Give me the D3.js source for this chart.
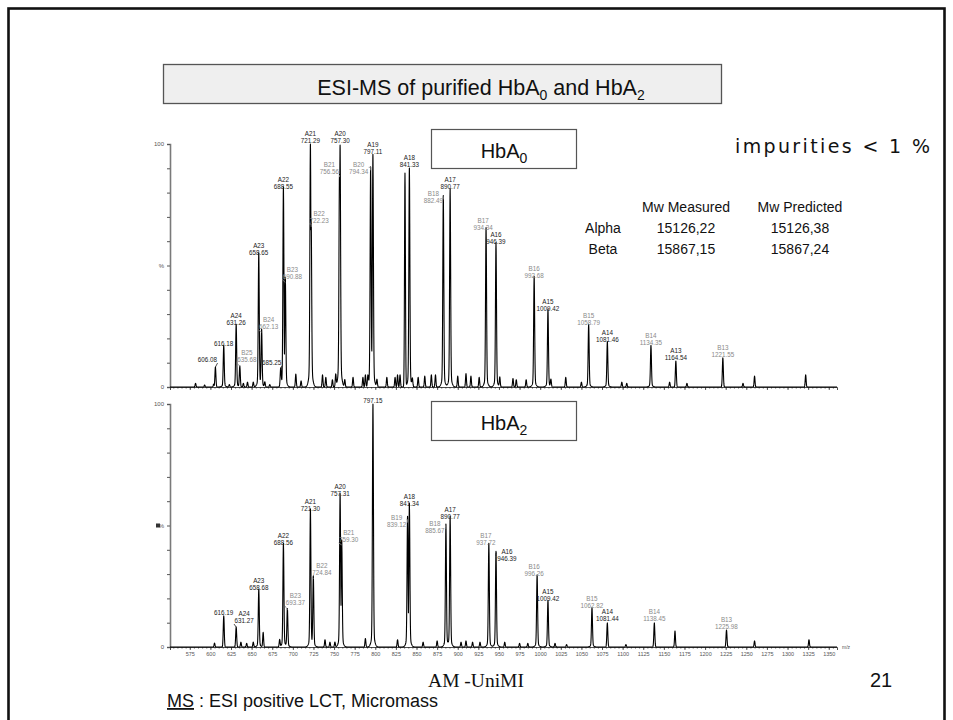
<!DOCTYPE html>
<html><head><meta charset="utf-8">
<script src="https://cdn.jsdelivr.net/npm/d3@7"></script>
<style>body{margin:0;background:#fff}svg{display:block}</style>
</head><body>
<svg id="c" width="953" height="720"></svg>
<script>
// ---------------- DATA ----------------
const mzDomain = [551, 1360];
const mzTickLabels = d3.range(575, 1351, 25);

// HbA0 spectrum: labelled peaks
const a0Names  = ["", "", "A24", "B25", "A23", "B24", "", "A22", "B23", "A21", "B22", "B21", "A20", "B20", "A19", "A18", "B18", "A17", "B17", "A16", "B16", "A15", "B15", "A14", "B14", "A13", "B13"];
const a0Labels = ["606.08","616.18","631.26","635.68","658.65","662.13","685.25","688.55","690.88","721.29","722.23","756.56","757.30","794.34","797.11","841.33","882.49","890.77","934.34","946.39","992.68","1009.42","1058.79","1081.46","1134.35","1164.54","1221.55"];
const a0Int    = [8.2, 16.5, 25, 8.6, 54, 22.6, 7, 81.5, 43, 100, 66.7, 86.4, 99.5, 90, 95.5, 89.7, 78, 81, 64.6, 58.4, 44.4, 31, 25, 18, 16.5, 10.7, 12];
// HbA0 spectrum: unlabelled peaks
const a0MinorMz  = [582, 593, 604, 623, 640, 645, 652, 666, 672, 703.6, 710, 736, 740, 748, 752, 763, 773, 785, 788, 791, 802, 814, 824, 827, 830, 836, 845, 852, 860, 868, 873, 900, 910, 916, 926, 951, 967, 971, 983, 1013, 1031, 1050, 1099, 1105, 1157, 1178, 1246, 1260, 1322];
const a0MinorInt = [1.5, 0.8, 1.2, 1.0, 1.5, 2.0, 2.0, 2.0, 1.0, 5.3, 2.5, 5.0, 4.0, 3.0, 5.0, 3.0, 4.0, 4.0, 5.0, 4.0, 3.0, 4.0, 4.0, 5.0, 5.0, 88, 3.0, 4.0, 4.5, 5.0, 5.0, 4.5, 5.5, 4.5, 4.0, 4.0, 3.5, 3.0, 3.0, 3.0, 4.0, 2.0, 2.0, 1.5, 2.0, 1.5, 1.5, 4.5, 5.0];

// HbA2 spectrum: labelled peaks
const a2Names  = ["", "A24", "A23", "A22", "B23", "A21", "B22", "A20", "B21", "", "B19", "A18", "B18", "A17", "B17", "A16", "B16", "A15", "B15", "A14", "B14", "B13"];
const a2Labels = ["616.19","631.27","658.68","688.56","693.37","721.30","724.84","757.31","759.30","797.15","839.12","841.34","885.67","890.77","937.72","946.39","996.26","1009.42","1062.82","1081.44","1138.45","1225.98"];
const a2Int    = [12.8, 8.2, 23, 41.6, 15.2, 55.6, 28, 61.7, 42, 100, 52, 57.6, 49.4, 52.7, 41.6, 38.3, 28.8, 18.5, 15.6, 9.9, 9.9, 7];
// HbA2 spectrum: unlabelled peaks
const a2MinorMz  = [605, 637, 644, 652, 664, 684, 739, 745, 751, 788, 827, 858, 875, 904, 910, 918, 927, 957, 975, 985, 1018, 1032, 1104, 1163.5, 1260, 1326];
const a2MinorInt = [1.6, 2.0, 1.5, 2.0, 6.0, 3.0, 3.0, 2.0, 2.0, 3.5, 3.0, 2.0, 2.5, 2.0, 2.5, 2.0, 2.0, 2.0, 1.5, 1.5, 1.5, 1.0, 1.0, 6.6, 2.5, 3.0];

// Table of molecular weights
const tableCols      = ["Mw Measured", "Mw Predicted"];
const tableRows      = ["Alpha", "Beta"];
const tableMeasured  = ["15126,22", "15867,15"];
const tablePredicted = ["15126,38", "15867,24"];

// ---------------- LAYOUT (label placement, px) ----------------
const a0Shift = {"606.08":[-8,-7],"635.68":[7,-6],"662.13":[7,-5],"685.25":[-9,-7],"690.88":[7,-6],"722.23":[8,-4],
  "756.56":[-10,-5],"794.34":[-12,3],"882.49":[-10,3],"934.34":[-3,-2],"688.55":[0,-2],"757.30":[0,-4],"841.33":[0,-4],"1134.35":[0,-4]};
const a2Shift = {"631.27":[8,-6],"693.37":[8,-7],"724.84":[8.5,-6],"759.30":[7,-5],"839.12":[-11,4],"885.67":[-11,4],
  "946.39":[11,5],"937.72":[-3,-3],"996.26":[-3,-3],"1081.44":[0,-4],"1138.45":[0,-4],"890.77":[0,-2]};

const FONT = "'Liberation Sans', Arial, Helvetica, sans-serif";
const svg = d3.select("#c");

// page frame
svg.append("rect").attr("x",8.5).attr("y",8.5).attr("width",936).attr("height",800)
  .attr("fill","none").attr("stroke","#111").attr("stroke-width",2.6);

// title box
svg.append("rect").attr("x",163.5).attr("y",64.5).attr("width",558).attr("height",39)
  .attr("fill","#efefef").attr("stroke","#555").attr("stroke-width",1.3);
const title = svg.append("text").attr("x",481).attr("y",95).attr("text-anchor","middle")
  .attr("font-family",FONT).attr("font-size",21.5).attr("fill","#111");
title.append("tspan").text("ESI-MS of purified HbA");
title.append("tspan").attr("dy",5).attr("font-size",14).text("0");
title.append("tspan").attr("dy",-5).text(" and HbA");
title.append("tspan").attr("dy",5).attr("font-size",14).text("2");

const x = d3.scaleLinear().domain(mzDomain).range([170, 837]);

function drawSpectrum(baseY, topY, names, labels, ints, minorMz, minorInt, shift, showTickLabels, square) {
  const g = svg.append("g");
  const y = d3.scaleLinear().domain([0,100]).range([baseY, topY]);
  const mz = labels.map(Number);
  const narrow = mz.map((c,i)=>({c, h:ints[i], s:0.6}))
    .concat(minorMz.map((c,i)=>({c, h:minorInt[i], s:0.55})));
  const broad = mz.map((c,i)=>({c, h: ints[i] >= 15 ? ints[i]*0.045 : 0, s:2.0}));
  const grid = d3.range(mzDomain[0], mzDomain[1]+0.001, 0.2).concat(mz, minorMz).sort((a,b)=>a-b);
  const pts = grid.map(m=>{
    let v=0;
    for (const p of narrow){const d=(m-p.c)/p.s; if (Math.abs(d)<7) v=Math.max(v, p.h*Math.exp(-0.5*d*d));}
    let b=0;
    for (const p of broad){const d=(m-p.c)/p.s; if (Math.abs(d)<7) b+=p.h*Math.exp(-0.5*d*d);}
    return [m, b + v*(1-b/100)];
  });

  // axes
  const yAxis = d3.axisLeft(y).tickValues(d3.range(0,101,10)).tickSize(3)
    .tickFormat(d=> d===100?"100": d===50?"%": d===0?"0":"");
  const ya = g.append("g").attr("transform",`translate(170,0)`).call(yAxis);
  ya.select(".domain").attr("stroke","#7a7a7a").attr("stroke-width",1.6);
  ya.selectAll(".tick line").attr("stroke","#555");
  ya.selectAll("text").attr("font-family",FONT).attr("font-size",6).attr("fill","#555");

  const minor = d3.axisBottom(x).tickValues(d3.range(555,1360,5)).tickSize(1.6).tickFormat("");
  const mi = g.append("g").attr("transform",`translate(0,${baseY})`).call(minor);
  mi.select(".domain").remove();
  mi.selectAll(".tick line").attr("stroke","#333").attr("stroke-width",0.7);
  const major = d3.axisBottom(x).tickValues(mzTickLabels).tickSize(3).tickPadding(2)
    .tickFormat(showTickLabels ? d3.format("d") : "");
  const ma = g.append("g").attr("transform",`translate(0,${baseY})`).call(major);
  ma.select(".domain").attr("stroke","#222").attr("stroke-width",0.8);
  ma.selectAll(".tick line").attr("stroke","#333").attr("stroke-width",0.8);
  ma.selectAll("text").attr("font-family",FONT).attr("font-size",5.5).attr("fill","#555");

  if (showTickLabels) {
    g.append("text").attr("x",842).attr("y",baseY+2).attr("font-family",FONT).attr("font-size",5)
      .attr("fill","#555").text("m/z");
  }
  if (square) {
    g.append("rect").attr("x",156).attr("y",y(50)-2).attr("width",4).attr("height",4).attr("fill","#333");
  }

  // trace
  const line = d3.line().x(d=>x(d[0])).y(d=>y(d[1]));
  g.append("path").datum(pts).attr("d",line).attr("fill","none").attr("stroke","#000")
    .attr("stroke-width",1.1).attr("stroke-linejoin","round");

  // labels
  labels.forEach((lab,i)=>{
    const px = x(mz[i]), top = y(ints[i]);
    const sh = shift[lab] || [0,-3];
    const lx = px + sh[0], cy = top + sh[1];
    const col = names[i].startsWith("B") ? "#8a8a8a" : "#1a1a1a";
    const t = g.append("text").attr("x",lx).attr("y",cy+2.2).attr("text-anchor","middle")
      .attr("font-family",FONT).attr("font-size",6.3).attr("fill",col).text(lab);
    if (names[i]) {
      g.append("text").attr("x",lx).attr("y",cy-4.8).attr("text-anchor","middle")
        .attr("font-family",FONT).attr("font-size",6.3).attr("fill",col).text(names[i]);
    }
    if (Math.abs(sh[0]) > 4) {
      const w = t.node().getComputedTextLength();
      const ex = lx + Math.sign(sh[0]) * -(w/2 + 0.5);
      if (cy + 3 < top - 1) {
        g.append("line").attr("x1",ex).attr("y1",cy+3).attr("x2",px).attr("y2",top)
          .attr("stroke",col).attr("stroke-width",0.8);
      } else {
        g.append("polyline").attr("points",`${ex},${top-1} ${px},${top-1} ${px},${top+2}`)
          .attr("fill","none").attr("stroke",col).attr("stroke-width",0.8);
      }
    }
  });
}

drawSpectrum(387, 144, a0Names, a0Labels, a0Int, a0MinorMz, a0MinorInt, a0Shift, false, false);
drawSpectrum(647, 404, a2Names, a2Labels, a2Int, a2MinorMz, a2MinorInt, a2Shift, true, true);

// species boxes
function speciesBox(y0, sub) {
  svg.append("rect").attr("x",431.5).attr("y",y0+0.5).attr("width",145).attr("height",39)
    .attr("fill","#fff").attr("stroke","#555").attr("stroke-width",1.2);
  const t = svg.append("text").attr("x",504).attr("y",y0+29).attr("text-anchor","middle")
    .attr("font-family",FONT).attr("font-size",20).attr("fill","#111");
  t.append("tspan").text("HbA");
  t.append("tspan").attr("dy",5).attr("font-size",14).text(sub);
}
speciesBox(129, "0");
speciesBox(401, "2");

// impurities
svg.append("text").attr("x",735).attr("y",153).attr("font-family","'DejaVu Sans', Verdana, sans-serif")
  .attr("font-size",19).attr("fill","#111").attr("textLength",195).attr("lengthAdjust","spacing")
  .text("impurities < 1 %");

// table
const colX = [686, 800];
const rowY = [233, 254];
const tf = (s)=> s.attr("font-family",FONT).attr("font-size",14).attr("fill","#111").attr("text-anchor","middle");
tableCols.forEach((c,i)=> tf(svg.append("text")).attr("x",colX[i]).attr("y",212).text(c));
tableRows.forEach((r,i)=>{
  tf(svg.append("text")).attr("x",603).attr("y",rowY[i]).text(r);
  tf(svg.append("text")).attr("x",colX[0]).attr("y",rowY[i]).text(tableMeasured[i]);
  tf(svg.append("text")).attr("x",colX[1]).attr("y",rowY[i]).text(tablePredicted[i]);
});

// footer
svg.append("text").attr("x",476).attr("y",687).attr("text-anchor","middle")
  .attr("font-family","'Liberation Serif', 'Times New Roman', serif").attr("font-size",19.5).attr("fill","#111").text("AM -UniMI");
svg.append("text").attr("x",881).attr("y",687).attr("text-anchor","middle")
  .attr("font-family",FONT).attr("font-size",20).attr("fill","#111").text("21");
const ms = svg.append("text").attr("x",167).attr("y",707).attr("font-family",FONT).attr("font-size",18).attr("fill","#111");
ms.append("tspan").attr("text-decoration","underline").text("MS");
ms.append("tspan").text(" : ESI positive LCT, Micromass");
</script>
</body></html>
